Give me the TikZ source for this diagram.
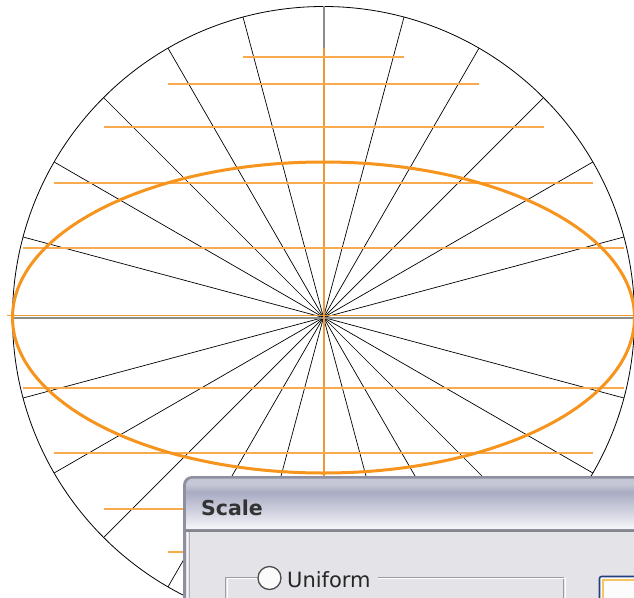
\documentclass[tikz,border=0pt]{standalone}
\usepackage{fontspec}
\newfontfamily\uifont{DejaVu Sans}
\definecolor{ellorange}{HTML}{F7941D}
\definecolor{chordorange}{HTML}{FAAA4E}
\definecolor{axisorange}{HTML}{EC9A35}
\definecolor{axisgrey}{HTML}{8C8C8C}
\definecolor{dlgedge}{HTML}{8E8FA0}
\definecolor{tbA}{HTML}{C6C7D6}
\definecolor{tbB}{HTML}{A9ABC3}
\definecolor{tbC}{HTML}{F3F3F7}
\definecolor{dlgbody}{HTML}{E4E4E8}
\definecolor{sepline}{HTML}{85858C}
\definecolor{groupline}{HTML}{9C9CA2}
\definecolor{btnedge}{HTML}{23407E}
\definecolor{btnglow}{HTML}{F5C463}
\tikzset{
  radial/.style={draw=black, line width=0.7pt},
  rim/.style={draw=black, line width=0.8pt},
  greyaxis/.style={draw=axisgrey, line width=2pt},
  orangeaxis/.style={draw=axisorange, line width=1.6pt},
  chord/.style={draw=chordorange, line width=1.6pt},
  ellipseline/.style={draw=ellorange, line width=3pt},
  uitext/.style={font=\uifont\fontsize{21}{21}\selectfont, text=black!85, inner sep=0pt},
  titletext/.style={font=\uifont\bfseries\fontsize{20.5}{20.5}\selectfont, text=black!80, inner sep=0pt},
}
\begin{document}
\begin{tikzpicture}[x=1pt,y=-1pt]
\useasboundingbox (0,0) rectangle (634,597);
\fill[white] (0,0) rectangle (634,597);
\clip (0,0) rectangle (634,597);
\coordinate (c) at (323.5,317.5);
% outer circle and radial lines
\draw[rim] (c) circle[radius=311];
\foreach \a in {15,30,45,60,75,105,120,135,150,165,195,210,225,240,255,285,300,315,330,345}
  \draw[radial] (c) -- ++(\a:311);
% grey axes
\draw[greyaxis] (12,317.5) -- (640,317.5);
\draw[greyaxis] (323.5,6) -- (323.5,628);
% orange axes
\draw[orangeaxis] (7,315.5) -- (640,315.5);
\draw[orangeaxis, line width=2pt] (324,48) -- (324,588);
% orange chords
\foreach \y/\h in {57/80.5, 84/155.5, 127/220, 183/269.5, 248/300.5,
                   388/300.5, 453/269.5, 509/220, 552/155.5, 579/80.5}
  \draw[chord] ({323.5-\h},\y) -- ({323.5+\h},\y);
% ellipse
\draw[ellipseline] (323.5,317.5) ellipse[x radius=311, y radius=155.5];
% dialog window
\fill[dlgedge, rounded corners=9] (183,476) rectangle (700,700);
\fill[tbA, rounded corners=7] (186,478.5) rectangle (700,500);
\shade[top color=tbA, bottom color=tbB] (186,484) rectangle (700,492);
\shade[top color=tbB, bottom color=tbC] (186,492) rectangle (700,528);
\fill[tbC] (186,526) rectangle (700,529);
\draw[sepline, line width=2pt] (186,530.5) -- (700,530.5);
\fill[dlgbody] (186,531.5) rectangle (700,700);
\draw[groupline!80, line width=1.5pt] (189.5,532) -- (189.5,700);
\draw[white!70!dlgbody, line width=1pt] (187,532) -- (187,700);
\node[titletext, anchor=base west] (title) at (201,515) {Scale};
% group box
\draw[groupline, line width=1pt] (257,577) -- (225.5,577) -- (225.5,700);
\draw[groupline, line width=1pt] (378,577) -- (563.5,577) -- (563.5,700);
\draw[white, line width=1pt] (257,578.5) -- (227,578.5) -- (227,700);
\draw[white, line width=1pt] (378,578.5) -- (565,578.5) -- (565,700);
\node[circle, draw=black!70, line width=1.3pt, fill=white!85!dlgbody, minimum size=23pt, inner sep=0pt] (radio) at (269.5,578) {};
\node[uitext, anchor=base west] (uniform) at (287,587.5) {Uniform};
% focused button at right
\fill[white!90!dlgbody, rounded corners=2] (599.5,576.5) rectangle (700,700);
\draw[btnglow, line width=2pt] (603,580) rectangle (700,700);
\draw[btnedge, line width=1.6pt, rounded corners=2] (599.5,576.5) rectangle (700,700);
\end{tikzpicture}
\end{document}
